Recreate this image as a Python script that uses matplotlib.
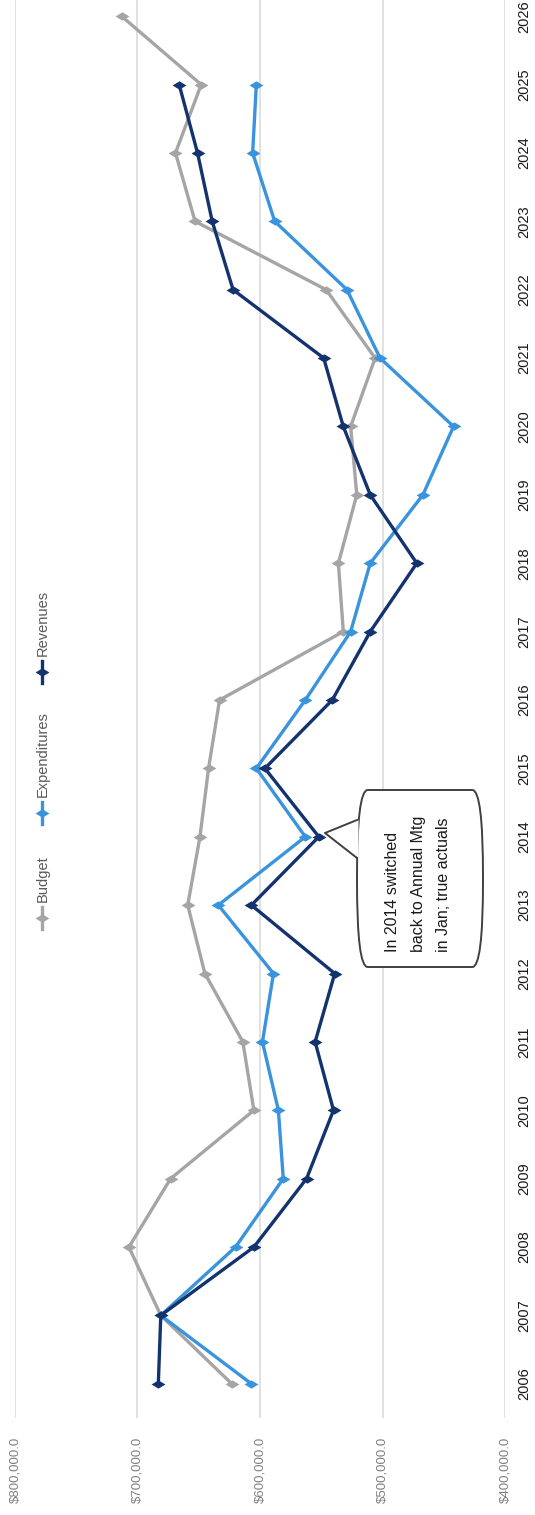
import matplotlib
matplotlib.use("Agg")
import matplotlib.pyplot as plt
from matplotlib.patches import FancyBboxPatch, Polygon
from matplotlib.lines import Line2D

plt.rcParams['font.family'] = ['Liberation Sans', 'DejaVu Sans']

years = list(range(2006, 2027))
year_labels = [str(y) for y in years]

budget = [623, 681, 707, 673, 605, 614, 645, 659, 649, 642, 633,
          532, 536, 521, 526, 506, 546, 653, 669, 648, 713]
expenditures = [607, 681, 620, 581, 585, 598, 589, 634, 563, 603, 563,
                526, 510, 467, 442, 502, 529, 588, 606, 603]
revenues = [683, 681, 605, 562, 540, 555, 539, 607, 552, 596, 541,
            510, 472, 510, 532, 548, 622, 639, 651, 666]

value_ticks = [800, 700, 600, 500, 400]
value_labels = ["$800,000.0", "$700,000.0", "$600,000.0", "$500,000.0", "$400,000.0"]

series_names = ["Budget", "Expenditures", "Revenues"]
colors = {"Budget": "#A5A5A5", "Expenditures": "#3A93DD", "Revenues": "#12336E"}

W, H = 535, 1515
fig = plt.figure(figsize=(W / 100, H / 100), dpi=100)

def fx(px):
    return px / W

def fy(py):
    return 1 - py / H

left_px, right_px = 15, 505
bottom_px, top_px = 1418, -18
ax = fig.add_axes([fx(left_px), fy(bottom_px), fx(right_px - left_px), (bottom_px - top_px) / H])
ax.set_xlim(800, 400)
ax.set_ylim(2005.5, 2026.5)
for s in ax.spines.values():
    s.set_visible(False)
ax.set_xticks(value_ticks)
ax.set_xticklabels(value_labels, rotation=90, fontsize=9.5, color="#808080")
ax.set_yticks(years)
ax.set_yticklabels(year_labels, rotation=90, fontsize=10.5, color="#1A1A1A", va="center")
ax.yaxis.tick_right()
ax.tick_params(axis="x", length=0, pad=13.5)
ax.tick_params(axis="y", length=0, pad=9)
for lab in ax.get_xticklabels():
    lab.set_verticalalignment("top")
ax.grid(axis="x", color="#D9D9D9", lw=1.1)
ax.set_axisbelow(True)

diamond = [(-1, 0), (0, 0.6), (1, 0), (0, -0.6), (-1, 0)]

data = {"Budget": budget, "Expenditures": expenditures, "Revenues": revenues}
for name in series_names:
    vals = data[name]
    ax.plot(vals, years[:len(vals)], color=colors[name], lw=2.4,
            marker=diamond, markersize=10, markeredgewidth=0, zorder=3,
            solid_joinstyle="round")

# legend (rotated, drawn manually)
legend_items = [("Budget", 918), ("Expenditures", 813), ("Revenues", 672)]
lx = 42
for name, my in legend_items:
    fig.add_artist(Line2D([fx(lx), fx(lx)], [fy(my - 11), fy(my + 11)],
                          transform=fig.transFigure, color=colors[name], lw=2.4))
    fig.add_artist(Line2D([fx(lx)], [fy(my)], transform=fig.transFigure,
                          color=colors[name], marker=diamond, markersize=10,
                          markeredgewidth=0))
    fig.text(fx(lx + 1), fy(my - 16), name, rotation=90, ha="center", va="bottom",
             fontsize=10.5, color="#595959")

# callout box
bx0, bx1, by0, by1 = 357, 483, 790, 967
box = FancyBboxPatch((fx(bx0), fy(by1)), fx(bx1 - bx0), (by1 - by0) / H,
                     boxstyle="round,pad=0,rounding_size=0.02",
                     transform=fig.transFigure, facecolor="white",
                     edgecolor="#404040", lw=1.4, zorder=5,
                     mutation_aspect=H / W)
fig.add_artist(box)
tip = (325, 833)
b1, b2 = (357, 820), (357, 858)
poly = Polygon([(fx(tip[0]), fy(tip[1])), (fx(b1[0] + 1.5), fy(b1[1])),
                (fx(b2[0] + 1.5), fy(b2[1]))], closed=True,
               transform=fig.transFigure, facecolor="white", edgecolor="none", zorder=6)
fig.add_artist(poly)
fig.add_artist(Line2D([fx(b1[0]), fx(tip[0]), fx(b2[0])],
                      [fy(b1[1]), fy(tip[1]), fy(b2[1])],
                      transform=fig.transFigure, color="#404040", lw=1.4, zorder=7))
fig.text(fx(418), fy(952), "In 2014 switched\nback to Annual Mtg\nin Jan; true actuals",
         rotation=90, ha="center", va="bottom", fontsize=11.5, color="#1A1A1A",
         linespacing=1.85, multialignment="left", zorder=8)

fig.savefig("out.png", dpi=100)
